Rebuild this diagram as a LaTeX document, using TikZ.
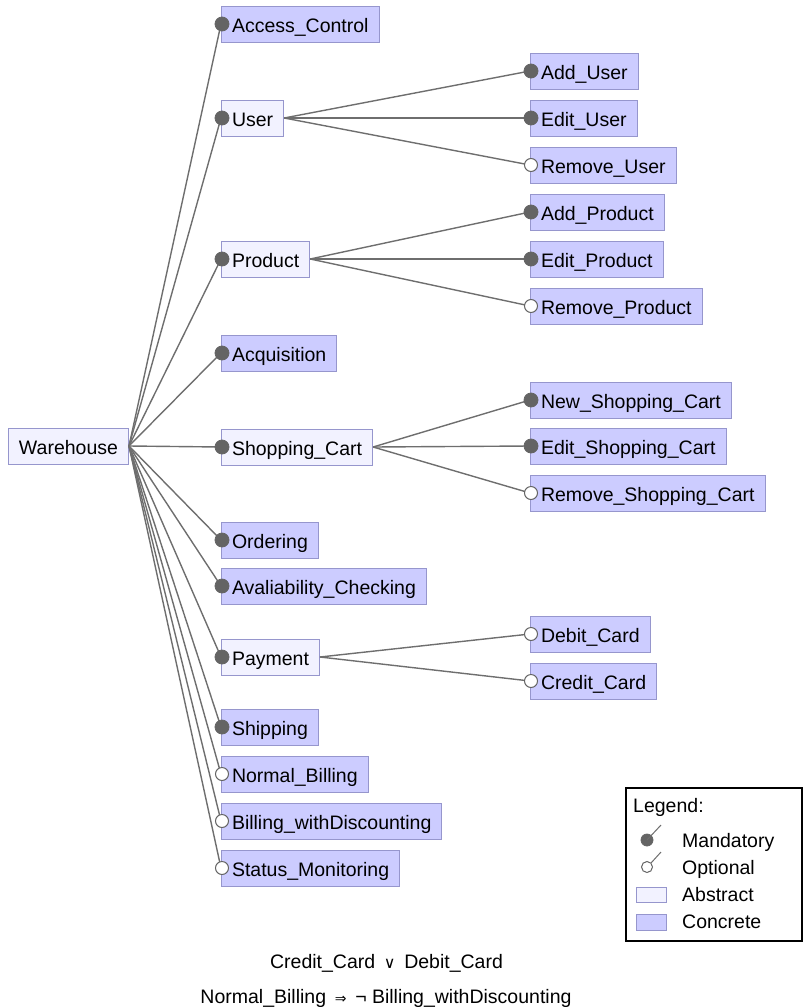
\documentclass[tikz,border=0pt]{standalone}
\usepackage{fontspec}
\setmainfont{Liberation Sans}
\newfontfamily\symfont{DejaVu Sans}
\definecolor{concretecol}{RGB}{204,204,255}
\definecolor{abstractcol}{RGB}{242,242,255}
\definecolor{boxline}{RGB}{150,150,205}
\definecolor{edgecol}{RGB}{110,110,110}
\definecolor{mandcol}{RGB}{100,100,100}
\begin{document}
\begin{tikzpicture}[x=1pt,y=-1pt,
  every node/.style={font=\fontsize{19.5}{23}\selectfont},
  feat/.style={draw=boxline, line width=1pt, minimum height=36pt,
    inner xsep=10.5pt, inner ysep=0pt, text height=16pt, text depth=0pt, anchor=west},
  concrete/.style={feat, fill=concretecol},
  abstract/.style={feat, fill=abstractcol},
  edge/.style={draw=edgecol, line width=1.4pt},
  mand/.style={circle, fill=mandcol, draw=mandcol, line width=0.8pt, inner sep=0pt, minimum size=14pt},
  opt/.style={circle, fill=white, draw=mandcol, line width=1pt, inner sep=0pt, minimum size=13pt},
  legtext/.style={anchor=base west, inner sep=0pt}
]
\useasboundingbox (0,0) rectangle (803,1007);

% root
\node[abstract] (wh) at (8,446) {Warehouse};

% first level
\node[concrete] (acc)  at (221,24)  {Access\_Control};
\node[abstract] (usr)  at (221,118) {User};
\node[abstract] (prd)  at (221,259) {Product};
\node[concrete] (acq)  at (221,353) {Acquisition};
\node[abstract] (sc)   at (221,447) {Shopping\_Cart};
\node[concrete] (ord)  at (221,540) {Ordering};
\node[concrete] (avc)  at (221,586) {Avaliability\_Checking};
\node[abstract] (pay)  at (221,657) {Payment};
\node[concrete] (shp)  at (221,727) {Shipping};
\node[concrete] (nb)   at (221,774) {Normal\_Billing};
\node[concrete] (bwd)  at (221,821) {Billing\_withDiscounting};
\node[concrete] (sm)   at (221,868) {Status\_Monitoring};

% second level
\node[concrete] (au)   at (530,71)  {Add\_User};
\node[concrete] (eu)   at (530,118) {Edit\_User};
\node[concrete] (ru)   at (530,165) {Remove\_User};
\node[concrete] (ap)   at (530,212) {Add\_Product};
\node[concrete] (ep)   at (530,259) {Edit\_Product};
\node[concrete] (rp)   at (530,306) {Remove\_Product};
\node[concrete] (nsc)  at (530,400) {New\_Shopping\_Cart};
\node[concrete] (esc)  at (530,446) {Edit\_Shopping\_Cart};
\node[concrete] (rsc)  at (530,493) {Remove\_Shopping\_Cart};
\node[concrete] (dc)   at (530,634) {Debit\_Card};
\node[concrete] (cc)   at (530,681) {Credit\_Card};

% connectors
\foreach \c in {acc,usr,prd,acq,sc,ord,avc,pay,shp,nb,bwd,sm}
  \draw[edge] (wh.east) -- (\c.west);
\foreach \c in {au,eu,ru} \draw[edge] (usr.east) -- (\c.west);
\foreach \c in {ap,ep,rp} \draw[edge] (prd.east) -- (\c.west);
\foreach \c in {nsc,esc,rsc} \draw[edge] (sc.east) -- (\c.west);
\foreach \c in {dc,cc} \draw[edge] (pay.east) -- (\c.west);

% mandatory / optional markers
\foreach \c in {acc,usr,prd,acq,sc,ord,avc,pay,shp,au,eu,ap,ep,nsc,esc}
  \node[mand] (m-\c) at ([xshift=1pt]\c.west) {};
\foreach \c in {nb,bwd,sm,ru,rp,rsc,dc,cc}
  \node[opt] (o-\c) at ([xshift=1pt]\c.west) {};

% legend
\draw[line width=1.2pt, black] (626,788) rectangle (802,941);
\node[legtext] (lg)   at (633,812) {Legend:};
\node[mand, minimum size=12pt] (lgm) at (647,840) {};
\draw[edgecol, line width=1pt] (lgm.center) -- (661,825);
\node[legtext] (lgmt) at (682,847) {Mandatory};
\node[opt, minimum size=11pt] (lgo) at (647,867) {};
\draw[edgecol, line width=1pt] (lgo.north east) -- (661,852);
\node[legtext] (lgot) at (682,874) {Optional};
\node[draw=boxline, fill=abstractcol, line width=1pt, minimum width=30pt, minimum height=15pt, inner sep=0pt] (lga) at (651,895) {};
\node[legtext] (lgat) at (682,901) {Abstract};
\node[draw=boxline, fill=concretecol, line width=1pt, minimum width=30pt, minimum height=16pt, inner sep=0pt] (lgc) at (651,922) {};
\node[legtext] (lgct) at (682,928) {Concrete};

% cross-tree constraints
\node[anchor=base, inner sep=0pt] (ct1) at (386.5,968) {Credit\_Card\ \,{\symfont\fontsize{16}{18}\selectfont ∨}\ \,Debit\_Card};
\node[anchor=base, inner sep=0pt] (ct2) at (386,1003) {Normal\_Billing\ \,{\symfont\fontsize{14}{16}\selectfont ⇒}\ \,¬\ Billing\_withDiscounting};
\end{tikzpicture}
\end{document}
